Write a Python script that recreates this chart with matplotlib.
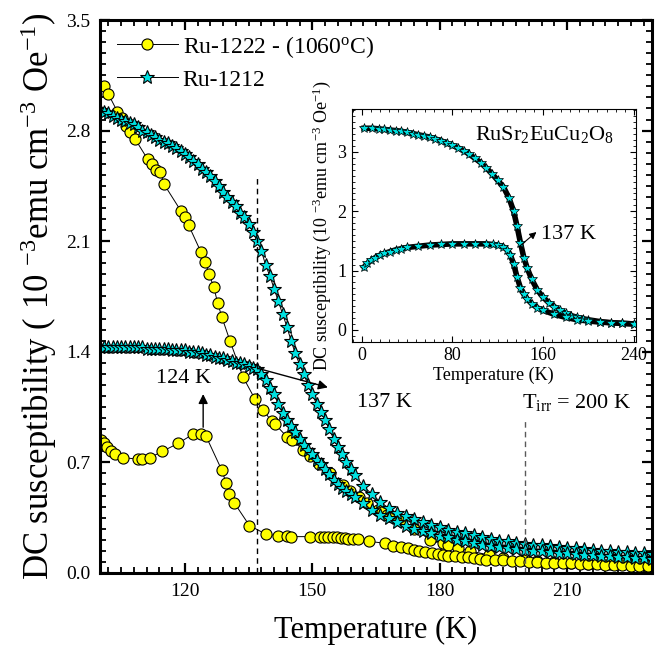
import numpy as np
import matplotlib
matplotlib.use('Agg')
import matplotlib.pyplot as plt
from matplotlib.ticker import MultipleLocator

plt.rcParams['font.family'] = 'Liberation Serif'
plt.rcParams['mathtext.default'] = 'regular'

# Ru-1222 (yellow circles), upper branch
T_1222_fc = [101.0, 102.0, 104.1, 105.3, 106.1, 107.1, 108.2, 111.2, 112.2, 113.2,
             114.2, 115.1, 119.1, 120.0, 120.9, 123.8, 124.8, 125.7, 126.8, 127.7,
             128.7, 130.6, 133.7, 136.5, 138.5, 140.4, 141.3, 144.1, 145.2, 147.9,
             149.5, 151.5, 154.2, 157.3, 158.9, 161.1, 162.8, 165.5, 166.5, 167.6,
             168.7, 171.0, 174.0, 177.7, 180.7, 182.0, 184.4, 187.1, 191.5, 195.0,
             199.7, 203.0, 207.0, 211.0, 215.0, 220.0, 225.0, 229.0]
X_1222_fc = [3.08, 3.03, 2.92, 2.88, 2.83, 2.79, 2.75, 2.62, 2.59, 2.55,
             2.54, 2.46, 2.29, 2.25, 2.20, 2.03, 1.97, 1.89, 1.81, 1.71,
             1.62, 1.47, 1.24, 1.10, 1.03, 0.96, 0.94, 0.86, 0.84, 0.78,
             0.74, 0.69, 0.63, 0.557, 0.52, 0.48, 0.445, 0.40, 0.385, 0.37,
             0.356, 0.33, 0.28, 0.21, 0.19, 0.18, 0.156, 0.14, 0.114, 0.097,
             0.082, 0.075, 0.068, 0.062, 0.058, 0.054, 0.05, 0.047]

# Ru-1222, lower branch
T_1222_zfc = [100.2, 100.9, 101.7, 102.6, 103.6, 105.5, 109.0, 109.9, 111.8, 114.7,
              118.4, 122.0, 123.8, 124.9, 128.7, 129.7, 130.5, 131.6, 135.2, 139.0,
              142.0, 144.1, 145.1, 149.5, 151.7, 152.7, 153.7, 154.9, 155.8, 156.7,
              157.6, 158.5, 159.5, 160.7, 163.4, 167.1, 168.9, 171.0, 172.5, 174.0,
              175.2, 176.6, 178.1, 179.5, 180.7, 182.0, 183.5, 185.2, 186.6, 188.0,
              189.5, 191.0, 193.0, 195.0, 197.0, 199.0, 201.0, 203.0, 205.0, 207.0,
              209.0, 211.0, 213.0, 215.0, 217.0, 219.0, 221.0, 223.0, 225.0, 227.0, 229.0]
X_1222_zfc = [0.84, 0.82, 0.80, 0.77, 0.75, 0.73, 0.72, 0.72, 0.73, 0.77,
              0.82, 0.88, 0.88, 0.87, 0.65, 0.57, 0.50, 0.445, 0.30, 0.247,
              0.234, 0.234, 0.23, 0.23, 0.23, 0.23, 0.23, 0.226, 0.225, 0.222,
              0.22, 0.218, 0.215, 0.213, 0.20, 0.188, 0.17, 0.163, 0.155, 0.148,
              0.14, 0.133, 0.125, 0.12, 0.115, 0.11, 0.107, 0.103, 0.098, 0.093,
              0.088, 0.085, 0.082, 0.079, 0.076, 0.073, 0.07, 0.068, 0.066, 0.064,
              0.062, 0.06, 0.058, 0.056, 0.054, 0.052, 0.05, 0.048, 0.046, 0.044, 0.042]

# Ru-1212 (cyan stars)
T_1212 = [100, 101, 102, 103, 104, 105, 106, 107, 108, 109, 110, 111, 112, 113, 114,
          115, 116, 117, 118, 119, 120, 121, 122, 123, 124, 125, 126, 127, 128, 129,
          130, 131, 132, 133, 134, 135, 136, 137, 138, 139, 140, 141, 142, 143, 144,
          145, 146, 147, 148, 149, 150, 151, 152, 153, 154, 155, 156, 157, 158, 159,
          160, 162, 164, 166, 168, 170, 172, 174, 176, 178, 180, 182, 184, 186, 188,
          190, 192, 194, 196, 198, 200, 202, 204, 206, 208, 210, 212, 214, 216, 218,
          220, 222, 224, 226, 228, 230]
X_1212_fc = [2.93, 2.92, 2.91, 2.89, 2.88, 2.87, 2.86, 2.85, 2.84, 2.82, 2.80, 2.79, 2.77, 2.76, 2.74,
             2.73, 2.72, 2.70, 2.69, 2.67, 2.65, 2.63, 2.61, 2.59, 2.56, 2.54, 2.51, 2.48, 2.45, 2.41,
             2.38, 2.35, 2.32, 2.28, 2.25, 2.21, 2.16, 2.10, 2.04, 1.95, 1.88, 1.80, 1.72, 1.64, 1.56,
             1.47, 1.39, 1.32, 1.26, 1.19, 1.13, 1.07, 1.02, 0.97, 0.91, 0.85, 0.80, 0.75, 0.70, 0.66,
             0.62, 0.55, 0.50, 0.45, 0.41, 0.38, 0.36, 0.34, 0.32, 0.305, 0.29, 0.275, 0.26, 0.25, 0.24,
             0.225, 0.215, 0.205, 0.20, 0.19, 0.185, 0.18, 0.175, 0.17, 0.165, 0.16, 0.155, 0.15, 0.146, 0.142,
             0.138, 0.134, 0.13, 0.127, 0.124, 0.12]
X_1212_zfc = [1.43, 1.43, 1.43, 1.43, 1.43, 1.43, 1.43, 1.43, 1.43, 1.43, 1.43, 1.42, 1.42, 1.42, 1.42,
              1.42, 1.42, 1.41, 1.41, 1.41, 1.41, 1.40, 1.40, 1.40, 1.39, 1.38, 1.38, 1.37, 1.36, 1.36,
              1.35, 1.34, 1.33, 1.33, 1.32, 1.31, 1.30, 1.29, 1.26, 1.22, 1.17, 1.13, 1.07, 1.01, 0.97,
              0.93, 0.89, 0.85, 0.81, 0.78, 0.75, 0.715, 0.69, 0.655, 0.625, 0.59, 0.565, 0.54, 0.52, 0.50,
              0.48, 0.44, 0.40, 0.37, 0.345, 0.32, 0.30, 0.28, 0.265, 0.25, 0.235, 0.225, 0.21, 0.20, 0.19,
              0.18, 0.172, 0.165, 0.158, 0.15, 0.145, 0.14, 0.136, 0.132, 0.128, 0.124, 0.12, 0.116, 0.113, 0.11,
              0.106, 0.103, 0.10, 0.097, 0.094, 0.09]

# inset: RuSr2EuCu2O8
T_in_fc = [2, 9, 15, 20, 25, 30, 35, 40, 45, 50, 55, 60, 65, 70, 75, 80, 85, 90, 95, 100,
           105, 110, 115, 120, 125, 130, 134, 137, 140, 143, 146, 150, 155, 160, 165, 170,
           175, 180, 185, 190, 195, 200, 210, 220, 230, 240]
X_in_fc = [3.40, 3.40, 3.39, 3.38, 3.37, 3.36, 3.35, 3.33, 3.31, 3.29, 3.27, 3.25, 3.22, 3.19,
           3.15, 3.11, 3.07, 3.02, 2.96, 2.89, 2.82, 2.73, 2.63, 2.52, 2.41, 2.22, 2.00, 1.75,
           1.47, 1.22, 1.04, 0.85, 0.67, 0.55, 0.46, 0.39, 0.33, 0.28, 0.24, 0.21, 0.19, 0.17,
           0.14, 0.12, 0.11, 0.10]
T_in_zfc = [2, 5, 8, 12, 16, 20, 25, 30, 35, 40, 50, 60, 70, 80, 90, 100, 110, 116, 120, 125,
            128, 131, 134, 137, 140, 143, 146, 150, 155, 160, 170, 180, 190, 200, 210, 220, 230, 240]
X_in_zfc = [1.06, 1.12, 1.17, 1.22, 1.26, 1.29, 1.32, 1.35, 1.37, 1.39, 1.41, 1.43, 1.44, 1.45,
            1.45, 1.45, 1.45, 1.44, 1.43, 1.40, 1.35, 1.27, 1.11, 0.89, 0.71, 0.60, 0.52, 0.44,
            0.37, 0.33, 0.26, 0.21, 0.17, 0.15, 0.13, 0.12, 0.11, 0.10]

yellow = '#ffff00'
cyan = '#00e0e0'

fig = plt.figure(figsize=(6.56, 6.54), dpi=100)
ax = fig.add_axes([0.1524, 0.1239, 0.8415, 0.8455])

ax.plot(T_1222_fc, X_1222_fc, '-', color='k', lw=0.7, marker='o', ms=8,
        mfc=yellow, mec='k', mew=0.8, label=u'Ru-1222 - (1060$^{o}$C)')
ax.plot(T_1222_zfc, X_1222_zfc, '-', color='k', lw=0.7, marker='o', ms=8,
        mfc=yellow, mec='k', mew=0.8)
ax.plot(T_1212, X_1212_fc, '-', color='k', lw=0.7, marker='*', ms=10,
        mfc=cyan, mec='k', mew=0.8, label='Ru-1212')
ax.plot(T_1212, X_1212_zfc, '-', color='k', lw=0.7, marker='*', ms=10,
        mfc=cyan, mec='k', mew=0.8)

# transition markers
ax.plot([137, 137], [0, 2.5], '--', color='k', lw=1, dashes=(4, 3))
ax.plot([200, 200], [0, 0.97], '--', color='0.35', lw=1, dashes=(4, 3))
ax.annotate('', xy=(124.3, 1.15), xytext=(124.3, 0.905),
            arrowprops=dict(arrowstyle='-|>', color='k', lw=1, mutation_scale=14))
ax.text(119.8, 1.23, '124 K', fontsize=16, ha='center', va='center')
ax.annotate('', xy=(154.3, 1.17), xytext=(136.5, 1.30),
            arrowprops=dict(arrowstyle='-|>', color='k', lw=1, mutation_scale=14))
ax.text(167, 1.08, '137 K', fontsize=16, ha='center', va='center')
ax.text(199.3, 1.08, r'T$_{irr}$ = 200 K', fontsize=16, ha='left', va='center')

ax.set_xlim(100, 230)
ax.set_ylim(0, 3.5)
ax.xaxis.set_major_locator(MultipleLocator(30))
ax.xaxis.set_minor_locator(MultipleLocator(3))
ax.yaxis.set_minor_locator(MultipleLocator(0.07))
ax.set_yticks([0, 0.7, 1.4, 2.1, 2.8, 3.5])
ax.set_yticklabels(['0.0', '0.7', '1.4', '2.1', '2.8', '3.5'])
ax.tick_params(which='both', direction='in', top=True, right=True, labelsize=14)
ax.tick_params(which='major', length=7, width=1.6, pad=7)
ax.tick_params(which='minor', length=4, width=1.3)
for s in ax.spines.values():
    s.set_linewidth(2.2)
ax.set_xlabel('Temperature (K)', fontsize=22, labelpad=12)
ax.set_ylabel(r'DC susceptibility ( 10 $^{-3}$emu cm$^{-3}$ Oe$^{-1}$)', fontsize=25, labelpad=5)

ax.legend(loc='upper left', bbox_to_anchor=(0.0, 1.005), frameon=False, fontsize=17,
          handlelength=2.6, handletextpad=0.2, labelspacing=0.4, borderaxespad=0.3)

# inset
axi = fig.add_axes([0.536, 0.4775, 0.4335, 0.3554])
axi.plot(T_in_fc, X_in_fc, '-', color='k', lw=4)
axi.plot(T_in_zfc, X_in_zfc, '-', color='k', lw=4)
axi.plot(T_in_fc, X_in_fc, '*', ms=7, mfc=cyan, mec='k', mew=0.5)
axi.plot(T_in_zfc, X_in_zfc, '*', ms=7, mfc=cyan, mec='k', mew=0.5)
axi.annotate('', xy=(156, 1.68), xytext=(136.7, 1.37),
             arrowprops=dict(arrowstyle='-|>', color='k', lw=0.8, mutation_scale=10))
axi.text(158, 1.60, '137 K', fontsize=16, ha='left', va='center')
axi.text(100, 3.30, r'RuSr$_2$EuCu$_2$O$_8$', fontsize=16, ha='left', va='center')
axi.set_xlim(-9, 242)
axi.set_ylim(-0.2, 3.72)
axi.xaxis.set_major_locator(MultipleLocator(80))
axi.xaxis.set_minor_locator(MultipleLocator(8))
axi.yaxis.set_major_locator(MultipleLocator(1))
axi.yaxis.set_minor_locator(MultipleLocator(0.1))
axi.tick_params(which='both', direction='in', top=True, right=True, labelsize=13)
axi.tick_params(which='major', length=4, width=0.8, pad=4)
axi.tick_params(which='minor', length=2, width=0.6)
for s in axi.spines.values():
    s.set_linewidth(0.8)
axi.set_xlabel('Temperature (K)', fontsize=13, labelpad=2)
axi.set_ylabel(r'DC susceptibility (10 $^{-3}$emu cm$^{-3}$ Oe$^{-1}$)', fontsize=13, labelpad=3)

fig.savefig('out.png', dpi=100)
